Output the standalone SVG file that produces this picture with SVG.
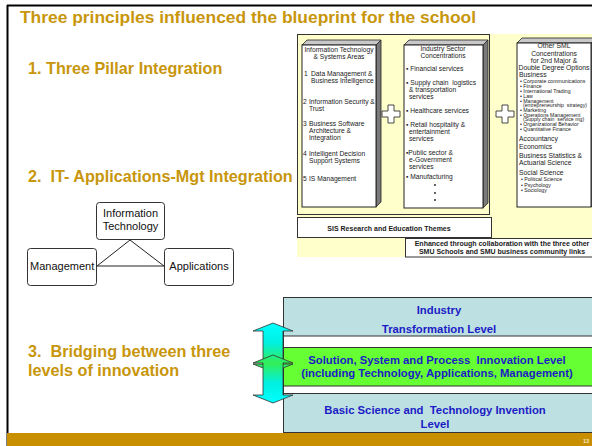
<svg xmlns="http://www.w3.org/2000/svg" width="592" height="446" viewBox="0 0 592 446" xml:space="preserve">
<style>
text{white-space:pre}
.gold{font-family:"Liberation Sans",Arial,sans-serif;font-weight:bold;fill:#C8960C}
.pt{font-family:"Liberation Sans",Arial,sans-serif;font-size:6.7px;fill:#1a1a1a}
.ph{font-family:"Liberation Sans",Arial,sans-serif;font-size:6.8px;fill:#1a1a1a}
.ps{font-family:"Liberation Sans",Arial,sans-serif;font-size:5.2px;fill:#1a1a1a}
.pb{font-family:"Liberation Sans",Arial,sans-serif;font-size:7px;font-weight:bold;fill:#1a1a1a}
.tri{font-family:"Liberation Sans",Arial,sans-serif;font-size:11px;fill:#111}
.lv{font-family:"Liberation Sans",Arial,sans-serif;font-size:11.3px;font-weight:bold;fill:#1c1cc4}
.front{fill:#fff;stroke:#222;stroke-width:1}
.top{fill:#c8c8c8;stroke:#222;stroke-width:0.8}
.side{fill:#7a7a7a;stroke:#222;stroke-width:0.8}
.plus{fill:#fff;stroke:#333;stroke-width:0.9}
.tbox{fill:#fff;stroke:#333;stroke-width:1}
.arrow{fill:url(#ag);stroke:#333;stroke-width:0.8}
</style>
<defs>
<linearGradient id="ag" gradientUnits="userSpaceOnUse" x1="0" y1="323" x2="0" y2="403">
<stop offset="0" stop-color="#00ffff"/>
<stop offset="0.25" stop-color="#00f0e0"/>
<stop offset="0.5" stop-color="#33ee55"/>
<stop offset="0.75" stop-color="#00f0e0"/>
<stop offset="1" stop-color="#00ffff"/>
</linearGradient>
</defs>
<rect width="592" height="446" fill="#fff"/>
<line x1="7" y1="5.5" x2="592" y2="5.5" stroke="#000" stroke-width="2"/>
<line x1="7.5" y1="5" x2="7.5" y2="446" stroke="#000" stroke-width="2"/>
<rect x="7" y="433" width="585" height="13" fill="#C89000"/>
<text x="589" y="443" font-family="Liberation Sans,Arial,sans-serif" font-size="5.5" font-weight="bold" fill="#f4e6c4" text-anchor="end">13</text>

<text class="gold" x="20" y="23" font-size="17.4">Three principles influenced the blueprint for the school</text>
<text class="gold" x="28" y="74" font-size="16.2">1. Three Pillar Integration</text>
<text class="gold" x="28" y="182" font-size="16.2">2.  IT- Applications-Mgt Integration</text>
<text class="gold" x="28" y="357" font-size="16.2">3.  Bridging between three</text>
<text class="gold" x="28" y="376" font-size="16.2">levels of innovation</text>

<g id="pillars-panel">
<rect x="297" y="34" width="295" height="223" fill="#FFFFCC"/>
<rect x="297.5" y="34.5" width="192" height="180" fill="none" stroke="#333" stroke-width="1"/>
</g>

<g id="pillar-it">
<polygon class="top" points="302,45 307,40 381,40 376,45"/>
<polygon class="side" points="376,45 381,40 381,202 376,207"/>
<rect class="front" x="302" y="45" width="74" height="162"/>
<text class="pt" x="339" y="52" text-anchor="middle">Information Technology</text>
<text class="pt" x="339" y="59" text-anchor="middle">&amp; Systems Areas</text>
<text class="pt" x="304" y="76">1</text>
<text class="pt" x="311" y="76">Data Management &amp;</text>
<text class="pt" x="311" y="83">Business Intelligence</text>
<text class="pt" x="303" y="104">2</text>
<text class="pt" x="309" y="104">Information Security &amp;</text>
<text class="pt" x="309" y="111">Trust</text>
<text class="pt" x="303" y="126">3</text>
<text class="pt" x="309" y="126">Business Software</text>
<text class="pt" x="309" y="133">Architecture &amp;</text>
<text class="pt" x="309" y="140">Integration</text>
<text class="pt" x="303" y="156">4</text>
<text class="pt" x="309" y="156">Intelligent Decision</text>
<text class="pt" x="309" y="163">Support Systems</text>
<text class="pt" x="303" y="181">5</text>
<text class="pt" x="309" y="181">IS Management</text>
</g>

<g id="plus-1">
<polygon class="plus" points="388,105 394,105 394,111 400,111 400,117 394,117 394,123 388,123 388,117 382,117 382,111 388,111"/>
</g>

<g id="pillar-industry">
<polygon class="top" points="404,45 409,40 488,40 483,45"/>
<polygon class="side" points="483,45 488,40 488,203 483,208"/>
<rect class="front" x="404" y="45" width="79" height="163"/>
<text class="pt" x="443" y="51" text-anchor="middle">Industry Sector</text>
<text class="pt" x="443" y="58" text-anchor="middle">Concentrations</text>
<text class="pt" x="406" y="71">▪ Financial services</text>
<text class="pt" x="406" y="85">▪ Supply chain  logistics</text>
<text class="pt" x="409" y="92">&amp; transportation</text>
<text class="pt" x="409" y="99">services</text>
<text class="pt" x="406" y="113">▪ Healthcare services</text>
<text class="pt" x="406" y="127">▪ Retail hospitality &amp;</text>
<text class="pt" x="409" y="134">entertainment</text>
<text class="pt" x="409" y="141">services</text>
<text class="pt" x="406" y="155">▪Public sector &amp;</text>
<text class="pt" x="409" y="162">e-Government</text>
<text class="pt" x="409" y="169">services</text>
<text class="pt" x="406" y="179">▪ Manufacturing</text>
<circle cx="435" cy="185" r="0.9" fill="#1a1a1a"/>
<circle cx="435" cy="193" r="0.9" fill="#1a1a1a"/>
<circle cx="435" cy="200" r="0.9" fill="#1a1a1a"/>
</g>

<g id="plus-2">
<polygon class="plus" points="502,105 508,105 508,111 514,111 514,117 508,117 508,123 502,123 502,117 496,117 496,111 502,111"/>
</g>

<g id="pillar-other">
<polygon class="top" points="517,43 522,38 596,38 591,43"/>
<polygon class="side" points="591,43 596,38 596,202 591,207"/>
<rect class="front" x="517" y="43" width="74" height="164"/>
<text class="ph" x="554" y="48" text-anchor="middle">Other SML</text>
<text class="ph" x="554" y="55.5" text-anchor="middle">Concentrations</text>
<text class="ph" x="554" y="63" text-anchor="middle">for 2nd Major &amp;</text>
<text class="ph" x="554" y="70" text-anchor="middle">Double Degree Options</text>
<text class="ph" x="519" y="77">Business</text>
<text class="ps" x="520" y="83">• Corporate communications</text>
<text class="ps" x="520" y="88">• Finance</text>
<text class="ps" x="520" y="93">• International Trading</text>
<text class="ps" x="520" y="98">• Law</text>
<text class="ps" x="520" y="102.5">• Management</text>
<text class="ps" x="523" y="107">(entrepreneurship  strategy)</text>
<text class="ps" x="520" y="111.5">• Marketing</text>
<text class="ps" x="520" y="116.5">• Operations Management</text>
<text class="ps" x="523" y="121">(Supply chain  service mg)</text>
<text class="ps" x="520" y="126">• Organizational Behavior</text>
<text class="ps" x="520" y="131">• Quantitative Finance</text>
<text class="ph" x="519" y="141">Accountancy</text>
<text class="ph" x="519" y="149">Economics</text>
<text class="ph" x="519" y="158">Business Statistics &amp;</text>
<text class="ph" x="519" y="165">Actuarial Science</text>
<text class="ph" x="519" y="175">Social Science</text>
<text class="ps" x="521" y="181">• Political Science</text>
<text class="ps" x="521" y="186.5">• Psychology</text>
<text class="ps" x="521" y="192">• Sociology</text>
</g>

<g id="sis-themes">
<rect class="tbox" x="297.5" y="217.5" width="194" height="20"/>
<text class="pb" x="389" y="230.5" text-anchor="middle">SIS Research and Education Themes</text>
</g>

<g id="enhanced">
<rect class="tbox" x="405.5" y="238.5" width="190" height="18.5" stroke="#111"/>
<text class="pb" x="502" y="245.5" text-anchor="middle" font-size="7.3">Enhanced through collaboration with the three other</text>
<text class="pb" x="502" y="254" text-anchor="middle" font-size="7.3">SMU Schools and SMU business community links</text>
</g>

<g id="connectors">
<polyline points="97,266 130,240 164,266" fill="none" stroke="#222" stroke-width="1"/>
<line x1="97" y1="266" x2="164" y2="266" stroke="#222" stroke-width="1"/>
</g>
<g id="node-it">
<rect class="tbox" x="96.5" y="202.5" width="68" height="37" rx="3"/>
<text class="tri" x="130.5" y="217" text-anchor="middle">Information</text>
<text class="tri" x="130.5" y="230" text-anchor="middle">Technology</text>
</g>
<g id="node-management">
<rect class="tbox" x="27.5" y="248.5" width="69" height="37" rx="3"/>
<text class="tri" x="30" y="270">Management</text>
</g>
<g id="node-applications">
<rect class="tbox" x="164.5" y="248.5" width="69" height="37" rx="3"/>
<text class="tri" x="199" y="270" text-anchor="middle">Applications</text>
</g>

<g id="levels">
<rect x="283.5" y="297.5" width="320" height="135" fill="#fff" stroke="#333" stroke-width="1"/>
<rect x="283.5" y="297.5" width="320" height="38.5" fill="#BDE0E3" stroke="#333" stroke-width="1"/>
<rect x="283.5" y="347.5" width="320" height="38.5" fill="#66FF33" stroke="#333" stroke-width="1"/>
<rect x="283.5" y="393.5" width="320" height="39" fill="#BDE0E3" stroke="#333" stroke-width="1"/>
</g>
<g id="level-industry">
<text class="lv" x="439" y="314" text-anchor="middle">Industry</text>
<text class="lv" x="439" y="333" text-anchor="middle">Transformation Level</text>
</g>
<g id="level-solution">
<text class="lv" x="437" y="363.5" text-anchor="middle">Solution, System and Process  Innovation Level</text>
<text class="lv" x="437" y="377" text-anchor="middle">(including Technology, Applications, Management)</text>
</g>
<g id="level-basic">
<text class="lv" x="435" y="414" text-anchor="middle">Basic Science and  Technology Invention</text>
<text class="lv" x="435" y="427.5" text-anchor="middle">Level</text>
</g>
<g id="arrows">
<polygon class="arrow" points="273,323 293,331 283,331 283,364 293,364 273,372 253,364 263,364 263,331 253,331"/>
<polygon class="arrow" points="273,355 293,363 283,363 283,395 293,395 273,403 253,395 263,395 263,363 253,363"/>
</g>
</svg>
